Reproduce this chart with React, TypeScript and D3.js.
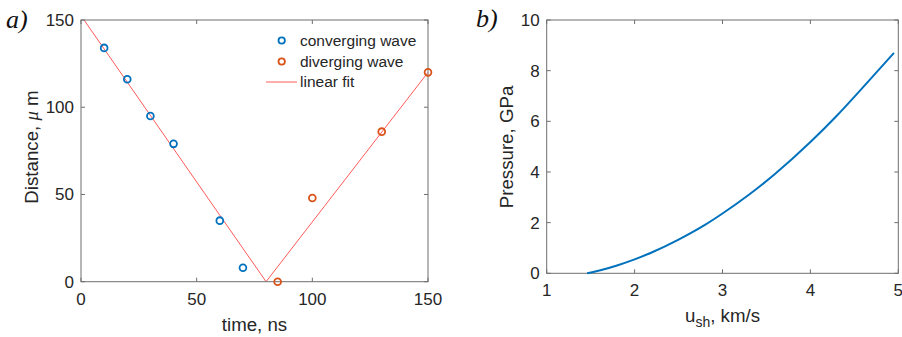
import { useEffect, useRef } from 'react'
import * as d3 from 'd3'

// panel a) measured points
const convTime = [10, 20, 30, 40, 60, 70]
const convDist = [134, 116, 95, 79, 35, 8]
const divTime = [85, 100, 130, 150]
const divDist = [0, 48, 86, 120]
// linear fit (two branches meeting at ~80 ns)
const fitTime = [0, 80, 150]
const fitDist = [152.5, 0, 120]

const aXTicks = [0, 50, 100, 150]
const aYTicks = [0, 50, 100, 150]

// panel b) pressure vs shock velocity
const ushVals = [1.46, 1.6, 1.8, 2.0, 2.2, 2.5, 2.8, 3.0, 3.3, 3.6, 4.0, 4.3, 4.6, 4.95]
const pressureVals = [0, 0.11, 0.31, 0.55, 0.83, 1.33, 1.91, 2.36, 3.1, 3.93, 5.18, 6.22, 7.35, 8.7]

const bXTicks = [1, 2, 3, 4, 5]
const bYTicks = [0, 2, 4, 6, 8, 10]

const BLUE = '#0072BD'
const ORANGE = '#D95319'
const TXT = '#262626'
const AX = '#6e6e6e'
const SANS = '"Liberation Sans", Arial, Helvetica, sans-serif'
const SERIF = '"Liberation Serif", "Times New Roman", serif'

type G = d3.Selection<SVGGElement, unknown, null, undefined>

function drawFrame(g: G, x: d3.ScaleLinear<number, number>, y: d3.ScaleLinear<number, number>, xTicks: number[], yTicks: number[]) {
  const [x0, x1] = x.range()
  const [y0, y1] = y.range() // y0 bottom, y1 top
  const tl = 4

  g.append('rect')
    .attr('x', x0).attr('y', y1)
    .attr('width', x1 - x0).attr('height', y0 - y1)
    .attr('fill', 'none').attr('stroke', AX).attr('stroke-width', 1)

  xTicks.forEach(t => {
    const px = x(t)
    g.append('line').attr('x1', px).attr('x2', px).attr('y1', y0).attr('y2', y0 - tl).attr('stroke', AX)
    g.append('line').attr('x1', px).attr('x2', px).attr('y1', y1).attr('y2', y1 + tl).attr('stroke', AX)
    g.append('text')
      .attr('x', px).attr('y', y0 + 23)
      .attr('text-anchor', 'middle')
      .attr('font-size', 17).attr('fill', TXT)
      .text(t)
  })

  yTicks.forEach(t => {
    const py = y(t)
    g.append('line').attr('x1', x0).attr('x2', x0 + tl).attr('y1', py).attr('y2', py).attr('stroke', AX)
    g.append('line').attr('x1', x1).attr('x2', x1 - tl).attr('y1', py).attr('y2', py).attr('stroke', AX)
    g.append('text')
      .attr('x', x0 - 7).attr('y', py)
      .attr('dy', '0.35em')
      .attr('text-anchor', 'end')
      .attr('font-size', 17).attr('fill', TXT)
      .text(t)
  })
}

export default function App() {
  const svgRef = useRef<SVGSVGElement>(null)

  useEffect(() => {
    const svg = d3.select(svgRef.current)
    svg.selectAll('*').remove()
    svg.attr('font-family', SANS)

    // ---------- panel a) ----------
    const ga = svg.append('g') as unknown as G
    const xa = d3.scaleLinear().domain([0, 150]).range([81, 428])
    const ya = d3.scaleLinear().domain([0, 150]).range([281.7, 20])

    svg.append('defs').append('clipPath').attr('id', 'clipA')
      .append('rect').attr('x', 81).attr('y', 20).attr('width', 428 - 81).attr('height', 281.7 - 20)

    const fitLine = d3.line<number>()
      .x((_, i) => xa(fitTime[i]))
      .y(d => ya(d))
    ga.append('path')
      .attr('d', fitLine(fitDist))
      .attr('clip-path', 'url(#clipA)')
      .attr('fill', 'none')
      .attr('stroke', '#ff3030')
      .attr('stroke-width', 0.8)

    drawFrame(ga, xa, ya, aXTicks, aYTicks)

    convTime.forEach((t, i) => {
      ga.append('circle')
        .attr('cx', xa(t)).attr('cy', ya(convDist[i])).attr('r', 3.4)
        .attr('fill', 'none').attr('stroke', BLUE).attr('stroke-width', 1.8)
    })
    divTime.forEach((t, i) => {
      ga.append('circle')
        .attr('cx', xa(t)).attr('cy', ya(divDist[i])).attr('r', 3.4)
        .attr('fill', 'none').attr('stroke', ORANGE).attr('stroke-width', 1.8)
    })

    // legend
    const lg = ga.append('g').attr('font-size', 15.5).attr('fill', TXT)
    lg.append('circle').attr('cx', 281.7).attr('cy', 40.5).attr('r', 3.2)
      .attr('fill', 'none').attr('stroke', BLUE).attr('stroke-width', 1.8)
    lg.append('text').attr('x', 300).attr('y', 40.5).attr('dy', '0.35em').text('converging wave')
    lg.append('circle').attr('cx', 281.7).attr('cy', 61.5).attr('r', 3.2)
      .attr('fill', 'none').attr('stroke', ORANGE).attr('stroke-width', 1.8)
    lg.append('text').attr('x', 300).attr('y', 61.5).attr('dy', '0.35em').text('diverging wave')
    lg.append('line').attr('x1', 266).attr('x2', 297).attr('y1', 82).attr('y2', 82)
      .attr('stroke', '#ff3030').attr('stroke-width', 0.8)
    lg.append('text').attr('x', 300).attr('y', 82).attr('dy', '0.35em').text('linear fit')

    ga.append('text')
      .attr('x', (81 + 428) / 2).attr('y', 331)
      .attr('text-anchor', 'middle')
      .attr('font-size', 18.7).attr('fill', TXT)
      .text('time, ns')

    const yla = ga.append('text')
      .attr('transform', 'translate(38,147) rotate(-90)')
      .attr('text-anchor', 'middle')
      .attr('font-size', 18.7).attr('fill', TXT)
    yla.append('tspan').text('Distance, ')
    yla.append('tspan').attr('font-family', SERIF).attr('font-style', 'italic').text('μ')
    yla.append('tspan').text(' m')

    ga.append('text')
      .attr('x', 6).attr('y', 28)
      .attr('font-family', SERIF).attr('font-style', 'italic')
      .attr('font-size', 26).attr('fill', '#111')
      .text('a)')

    // ---------- panel b) ----------
    const gb = svg.append('g') as unknown as G
    const xb = d3.scaleLinear().domain([1, 5]).range([546.7, 898.3])
    const yb = d3.scaleLinear().domain([0, 10]).range([273.3, 20])

    drawFrame(gb, xb, yb, bXTicks, bYTicks)

    const curve = d3.line<number>()
      .x((_, i) => xb(ushVals[i]))
      .y(d => yb(d))
      .curve(d3.curveMonotoneX)
    gb.append('path')
      .attr('d', curve(pressureVals))
      .attr('fill', 'none')
      .attr('stroke', BLUE)
      .attr('stroke-width', 2)

    const xlb = gb.append('text')
      .attr('x', 722.5).attr('y', 322)
      .attr('text-anchor', 'middle')
      .attr('font-size', 18.7).attr('fill', TXT)
    xlb.append('tspan').text('u')
    xlb.append('tspan').attr('font-size', 14).attr('dy', 5).text('sh')
    xlb.append('tspan').attr('dy', -5).text(', km/s')

    gb.append('text')
      .attr('transform', 'translate(513,147) rotate(-90)')
      .attr('text-anchor', 'middle')
      .attr('font-size', 18.7).attr('fill', TXT)
      .text('Pressure, GPa')

    gb.append('text')
      .attr('x', 476).attr('y', 27)
      .attr('font-family', SERIF).attr('font-style', 'italic')
      .attr('font-size', 26).attr('fill', '#111')
      .text('b)')
  }, [])

  return (
    <div style={{ position: 'absolute', left: 0, top: 0, width: 902, height: 337, background: '#fff' }}>
      <svg ref={svgRef} width={902} height={337} style={{ display: 'block' }} />
    </div>
  )
}
